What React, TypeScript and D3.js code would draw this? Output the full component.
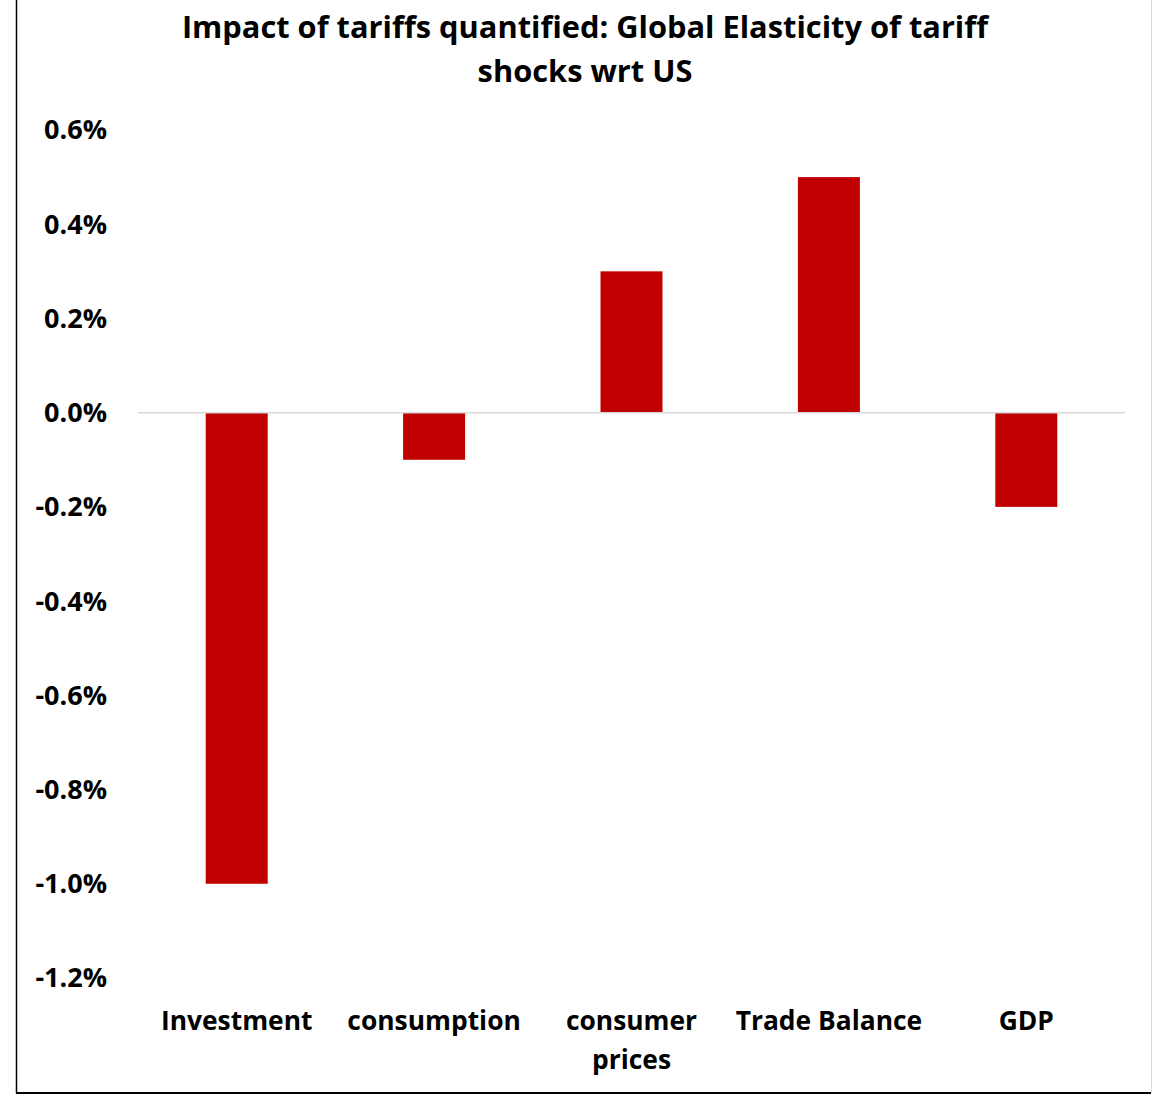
import React from "react";
import * as d3 from "d3";

const categories: string[][] = [
  ["Investment"],
  ["consumption"],
  ["consumer", "prices"],
  ["Trade Balance"],
  ["GDP"],
];
const values: number[] = [-1.0, -0.1, 0.3, 0.5, -0.2];
const yTicks: number[] = [0.6, 0.4, 0.2, 0.0, -0.2, -0.4, -0.6, -0.8, -1.0, -1.2];
const titleLines: string[] = [
  "Impact of tariffs quantified: Global Elasticity of tariff",
  "shocks wrt US",
];

const W = 1153;
const H = 1095;
const FONT = "'Open Sans', 'Noto Sans', sans-serif";

export default function App() {
  const plotLeft = 138;
  const plotRight = 1125;
  const y = d3.scaleLinear().domain([-1.2, 0.6]).range([978, 130]);
  const x = d3
    .scaleBand<number>()
    .domain(d3.range(categories.length))
    .range([plotLeft, plotRight])
    .paddingInner(0.686)
    .paddingOuter(0.343);
  const bw = x.bandwidth();
  const fmt = (t: number) => d3.format(".1f")(t).replace("\u2212", "-") + "%";
  return (
    <svg
      width={W}
      height={H}
      style={{ position: "absolute", left: 0, top: 0, background: "#fff" }}
      fontFamily={FONT}
    >
      <rect x={0} y={0} width={W} height={H} fill="#fff" />
      {/* border */}
      <line x1={16.5} y1={0} x2={16.5} y2={1093} stroke="#000" strokeWidth={1.5} />
      <line x1={16} y1={1093} x2={1151} y2={1093} stroke="#000" strokeWidth={2} />
      <line x1={1151.5} y1={0} x2={1151.5} y2={1093} stroke="#d9d9d9" strokeWidth={1} />
      {/* title */}
      {titleLines.map((t, i) => (
        <text
          key={i}
          x={585}
          y={38 + i * 44}
          textAnchor="middle"
          fontSize={30.8}
          fontWeight="bold"
          fill="#000"
        >
          {t}
        </text>
      ))}
      {/* y tick labels */}
      {yTicks.map((t) => (
        <text
          key={t}
          x={107}
          y={y(t)}
          dy="0.35em"
          textAnchor="end"
          fontSize={27}
          fontWeight="bold"
          fill="#000"
        >
          {fmt(t)}
        </text>
      ))}
      {/* bars */}
      {values.map((v, i) => (
        <rect
          key={i}
          x={x(i)!}
          y={y(Math.max(0, v))}
          width={bw}
          height={Math.abs(y(v) - y(0))}
          fill="#c00000"
        />
      ))}
      {/* zero line */}
      <line
        x1={plotLeft}
        x2={plotRight}
        y1={y(0)}
        y2={y(0)}
        stroke="#d9d9d9"
        strokeWidth={1.5}
      />
      {/* category labels */}
      {categories.map((lines, i) =>
        lines.map((l, j) => (
          <text
            key={i + "-" + j}
            x={x(i)! + bw / 2}
            y={1030 + j * 39}
            textAnchor="middle"
            fontSize={26.4}
            fontWeight="bold"
            fill="#000"
          >
            {l}
          </text>
        ))
      )}
    </svg>
  );
}
